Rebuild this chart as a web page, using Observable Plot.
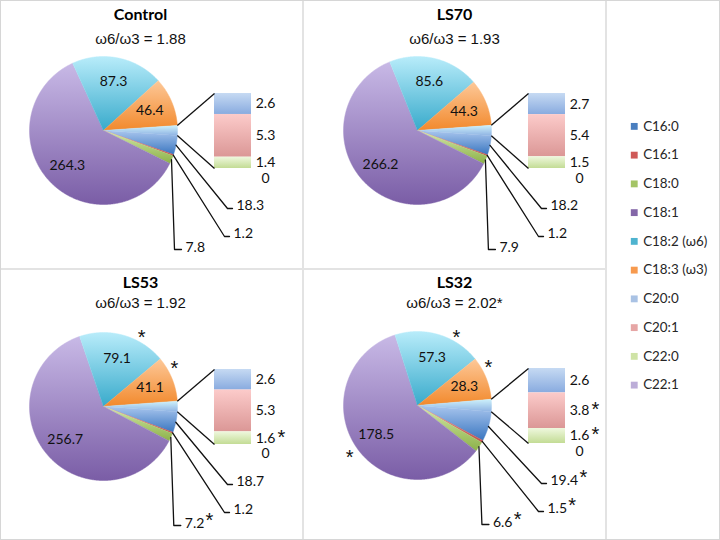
<!DOCTYPE html>
<html>
<head>
<meta charset="utf-8">
<script src="https://cdn.jsdelivr.net/npm/d3@7"></script>
<script src="https://cdn.jsdelivr.net/npm/@observablehq/plot@0.6"></script>
<style>
  html, body { margin: 0; padding: 0; background: #fff; }
  #chart { position: relative; width: 720px; height: 540px; overflow: hidden; background: #fff; box-sizing: border-box; border: 1.5px solid #d6d6d6; }
  .panel { position: absolute; }
  .rule { position: absolute; background: #e3e3e3; }
</style>
</head>
<body>
<svg width="0" height="0" style="position:absolute"><defs id="grads"></defs></svg>
<div id="chart"></div>
<script>
// ---------------- data ----------------
const fattyAcids = ["C16:0", "C16:1", "C18:0", "C18:1", "C18:2 (ω6)", "C18:3 (ω3)", "C20:0", "C20:1", "C22:0", "C22:1"];
const groups = ["Control", "LS70", "LS53", "LS32"];
const controlValues = [18.3, 1.2, 7.8, 264.3, 87.3, 46.4, 2.6, 5.3, 1.4, 0];
const ls70Values    = [18.2, 1.2, 7.9, 266.2, 85.6, 44.3, 2.7, 5.4, 1.5, 0];
const ls53Values    = [18.7, 1.2, 7.2, 256.7, 79.1, 41.1, 2.6, 5.3, 1.6, 0];
const ls32Values    = [19.4, 1.5, 6.6, 178.5, 57.3, 28.3, 2.6, 3.8, 1.6, 0];
// significance markers (*) per fatty acid
const controlSig = [0, 0, 0, 0, 0, 0, 0, 0, 0, 0];
const ls70Sig    = [0, 0, 0, 0, 0, 0, 0, 0, 0, 0];
const ls53Sig    = [0, 0, 1, 0, 1, 1, 0, 0, 1, 0];
const ls32Sig    = [1, 1, 1, 1, 1, 1, 0, 1, 1, 0];
const omegaRatios = [1.88, 1.93, 1.92, 2.02];
const omegaRatioSig = [0, 0, 0, 1];

// ---------------- styles ----------------
const gradientStops = {
  "C16:0": ["#a9c6ee", "#3a76c0"],
  "C16:1": ["#ec9290", "#c0504d"],
  "C18:0": ["#d3e8a8", "#8db24a"],
  "C18:1": ["#c8b9e6", "#7a5da6"],
  "C18:2 (ω6)": ["#b8ecfa", "#38aacb"],
  "C18:3 (ω3)": ["#fdc898", "#f2892c"],
  "C20:0": ["#c6daf3", "#89abdf"],
  "C20:1": ["#fccbca", "#db9796"],
  "C22:0": ["#eff8de", "#c3dc95"],
  "C22:1": ["#ded4f1", "#b2a1cf"],
  "Other": ["#cdf1fb", "#8fb3e3"]
};
const swatchColors = ["#4a7ebf", "#cf5a58", "#a4c466", "#8467a8", "#4eb3cf", "#f79a4e", "#a9c2e4", "#e6a6a5", "#cfe3a6", "#bcadd8"];
const colorKeys = [...fattyAcids, "Other"];

// build gradients
const defs = d3.select("#grads");
colorKeys.forEach((k, i) => {
  const g = defs.append("linearGradient").attr("id", "grad-" + i)
    .attr("x1", 0).attr("y1", 0).attr("x2", 0).attr("y2", 1);
  g.append("stop").attr("offset", "0%").attr("stop-color", gradientStops[k][0]);
  g.append("stop").attr("offset", "100%").attr("stop-color", gradientStops[k][1]);
});
const gradientUrls = colorKeys.map((k, i) => `url(#grad-${i})`);

// ---------------- layout ----------------
const panelLayout = [
  {left: 0,   top: 0,   width: 302, height: 268, cx: 103, cy: 130, titleDy: -116, subDy: -91},
  {left: 302, top: 0,   width: 303, height: 268, cx: 115, cy: 130, titleDy: -116, subDy: -91},
  {left: 0,   top: 268, width: 302, height: 272, cx: 103, cy: 138, titleDy: -124, subDy: -103.5},
  {left: 302, top: 268, width: 303, height: 272, cx: 115, cy: 137, titleDy: -123, subDy: -102.5}
];
const R = 74;
const FONT = "Lato, 'Open Sans', sans-serif";
const ARIAL = "'Liberation Sans', Arial, sans-serif";
const fmt = v => v === 0 ? "0" : v.toFixed(1);
const textWidth = s => [...s].reduce((w, c) => w + (c === "." ? 3.6 : 8.1), 0);
const AST = 20; // asterisk font size
const astY = t => t + 0.25 * AST;

function panelPlot(name, values, sig, ratio, ratioSig, L) {
  const mainItems = fattyAcids.slice(0, 6).map((k, i) => ({key: k, value: values[i], sig: sig[i]}));
  const barItems = fattyAcids.slice(6).map((k, j) => ({key: k, value: values[6 + j], sig: sig[6 + j]}));
  const otherTotal = d3.sum(barItems, d => d.value);
  const pieItems = [...mainItems, {key: "Other", value: otherTotal, sig: 0}];
  const total = d3.sum(pieItems, d => d.value);
  const otherSpan = otherTotal / total * 2 * Math.PI;
  const a0 = Math.PI / 2 + otherSpan / 2;
  const arcs = d3.pie().sort(null).value(d => d.value).startAngle(a0).endAngle(a0 + 2 * Math.PI)(pieItems);
  const pt = (a, r) => ({x: r * Math.sin(a), y: -r * Math.cos(a)});
  const midA = a => (a.startAngle + a.endAngle) / 2;

  // slice polygons
  const polys = [];
  arcs.forEach(a => {
    const n = Math.max(2, Math.ceil((a.endAngle - a.startAngle) / (Math.PI / 360)));
    polys.push({key: a.data.key, x: 0, y: 0});
    for (let s = 0; s <= n; s++) {
      const p = pt(a.startAngle + (a.endAngle - a.startAngle) * s / n, R);
      polys.push({key: a.data.key, x: p.x, y: p.y});
    }
  });

  // bar of pie
  const barTop = -37, barH = 75, barX1 = 111, barX2 = 148, barLabelX = 162;
  let acc = 0, prev = -Infinity;
  const barRects = barItems.map(d => {
    const y1 = barTop + acc / otherTotal * barH;
    acc += d.value;
    const y2 = barTop + acc / otherTotal * barH;
    let ly = (y1 + y2) / 2;
    ly = Math.max(ly, prev + 15.5);
    prev = ly;
    return {...d, x1: barX1, x2: barX2, y1, y2, ly, label: fmt(d.value)};
  });

  // connectors between the "other" slice and the bar
  const other = arcs[6];
  const pTop = pt(other.startAngle, R), pBot = pt(other.endAngle, R);
  const connectors = [
    {x1: pTop.x, y1: pTop.y, x2: barX1, y2: barTop},
    {x1: pBot.x, y1: pBot.y, x2: barX1, y2: barTop + barH}
  ];

  // leader lines for small slices
  const e0 = pt(midA(arcs[0]), R), e1 = pt(midA(arcs[1]), R), e2 = pt(midA(arcs[2]), R);
  const leaderPts = [
    {id: 0, x: e0.x, y: e0.y}, {id: 0, x: 124, y: 78}, {id: 0, x: 129, y: 78},
    {id: 1, x: e1.x, y: e1.y}, {id: 1, x: 121, y: 106}, {id: 1, x: 126, y: 106},
    {id: 2, x: e2.x, y: e2.y}, {id: 2, x: e2.x + 3, y: 119}, {id: 2, x: e2.x + 10, y: 119}
  ];
  const leaderLabels = [
    {x: 133, y: 75, label: fmt(values[0]), sig: sig[0]},
    {x: 130, y: 103, label: fmt(values[1]), sig: sig[1]},
    {x: e2.x + 14, y: 117, label: fmt(values[2]), sig: sig[2]}
  ];

  // inner labels of large slices
  const inner = arcs.slice(3, 6).map(a => ({...pt(midA(a), 0.68 * R), label: fmt(a.data.value)}));

  // asterisks
  const asterisks = [];
  arcs.slice(3, 6).forEach(a => {
    if (!a.data.sig) return;
    let m = midA(a) % (2 * Math.PI);
    if (m < Math.PI / 2) m += 0.4 * (Math.PI / 4 - m); // pull towards upper-right diagonal
    const p = pt(m, 1.12 * R);
    asterisks.push({x: p.x, y: astY(p.y)});
  });
  leaderLabels.forEach(l => {
    if (l.sig) asterisks.push({x: l.x + textWidth(l.label) + 1, y: astY(l.y - 8), anchor: "start"});
  });
  barRects.forEach(b => {
    if (b.sig) asterisks.push({x: barLabelX + textWidth(b.label) / 2 + 2, y: astY(b.ly - 6), anchor: "start"});
  });

  const subtitle = "ω6/ω3 = " + ratio.toFixed(2) + (ratioSig ? "*" : "");

  return Plot.plot({
    width: L.width, height: L.height, margin: 0,
    x: {domain: [-L.cx, L.width - L.cx], range: [0, L.width], axis: null},
    y: {domain: [-L.cy, L.height - L.cy], range: [0, L.height], axis: null},
    color: {domain: colorKeys, range: gradientUrls},
    style: {background: "transparent", overflow: "visible"},
    marks: [
      Plot.line(polys, {x: "x", y: "y", z: "key", fill: "key", stroke: "key", strokeWidth: 0.5, curve: "linear"}),
      Plot.rect(barRects, {x1: "x1", x2: "x2", y1: "y1", y2: "y2", fill: "key"}),
      Plot.link(connectors, {x1: "x1", y1: "y1", x2: "x2", y2: "y2", stroke: "#111", strokeWidth: 1.3}),
      Plot.line(leaderPts, {x: "x", y: "y", z: "id", stroke: "#111", strokeWidth: 1.3, curve: "linear"}),
      Plot.text(inner, {x: "x", y: "y", text: "label", fontFamily: FONT, fontSize: 14, fill: "#111"}),
      Plot.text(barRects, {x: () => barLabelX, y: "ly", text: "label", fontFamily: FONT, fontSize: 14, fill: "#111"}),
      Plot.text(leaderLabels, {x: "x", y: "y", text: "label", textAnchor: "start", fontFamily: FONT, fontSize: 14, fill: "#111"}),
      Plot.text(asterisks.filter(a => a.anchor !== "start"), {x: "x", y: "y", text: () => "*", fontFamily: ARIAL, fontSize: AST, fill: "#111"}),
      Plot.text(asterisks.filter(a => a.anchor === "start"), {x: "x", y: "y", text: () => "*", textAnchor: "start", fontFamily: ARIAL, fontSize: AST, fill: "#111"}),
      Plot.text([name], {x: () => 37, y: () => L.titleDy, text: d => d, fontFamily: FONT, fontWeight: "bold", fontSize: 16, fill: "#000"}),
      Plot.text([subtitle], {x: () => 37, y: () => L.subDy, text: d => d, fontFamily: ARIAL, fontSize: 15, fill: "#111"})
    ]
  });
}

const chart = document.getElementById("chart");
const valueSets = [controlValues, ls70Values, ls53Values, ls32Values];
const sigSets = [controlSig, ls70Sig, ls53Sig, ls32Sig];
groups.forEach((g, i) => {
  const L = panelLayout[i];
  const div = document.createElement("div");
  div.className = "panel";
  div.style.left = (L.left - 1.5) + "px";
  div.style.top = (L.top - 1.5) + "px";
  div.appendChild(panelPlot(g, valueSets[i], sigSets[i], omegaRatios[i], omegaRatioSig[i], L));
  chart.appendChild(div);
});

// dividers
[[300.5, -2, 2, 545], [603.5, -2, 2, 545], [-2, 266.5, 607, 2]].forEach(([l, t, w, h]) => {
  const d = document.createElement("div");
  d.className = "rule";
  Object.assign(d.style, {left: l + "px", top: t + "px", width: w + "px", height: h + "px"});
  chart.appendChild(d);
});

// legend
const legendDiv = document.createElement("div");
legendDiv.className = "panel";
legendDiv.style.left = "604px";
legendDiv.style.top = "-1.5px";
legendDiv.appendChild(Plot.plot({
  width: 115, height: 540, margin: 0,
  x: {domain: [0, 115], range: [0, 115], axis: null},
  y: {type: "point", domain: fattyAcids, range: [109, 405], axis: null},
  color: {domain: fattyAcids, range: swatchColors},
  style: {background: "transparent", overflow: "visible"},
  marks: [
    Plot.dot(fattyAcids, {x: () => 29, y: d => d, fill: d => d, symbol: "square", r: 3.9}),
    Plot.text(fattyAcids, {x: () => 38, y: d => d, text: d => d, textAnchor: "start", fontFamily: FONT, fontSize: 13.5, fill: "#262626"})
  ]
}));
chart.appendChild(legendDiv);
</script>
</body>
</html>
